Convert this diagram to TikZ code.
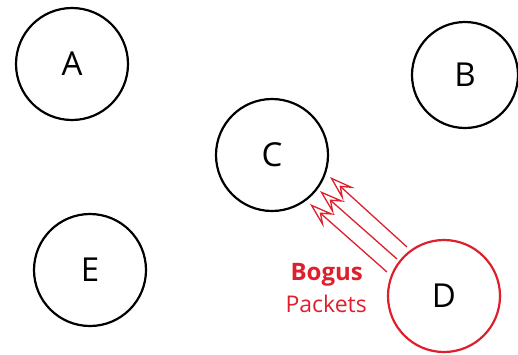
\documentclass[tikz,border=0pt]{standalone}
\usepackage{fontspec}
\setmainfont{Open Sans}
\usetikzlibrary{arrows.meta}
\definecolor{bogusred}{RGB}{222,32,44}
\begin{document}
\begin{tikzpicture}[x=1pt,y=-1pt,
  host/.style={circle,draw=black,line width=2.2pt,minimum size=112pt,inner sep=0pt,font=\fontsize{33}{36}\selectfont},
  badhost/.style={host,draw=bogusred},
  packet/.style={draw=bogusred,line width=1.3pt,-{Stealth[open,length=26pt,width=17pt,inset=11pt,line width=1.3pt]}}]
\useasboundingbox (0,0) rectangle (518,354);
\node[host] (A) at (72,64) {A};
\node[host,minimum size=106pt] (B) at (465,75) {B};
\node[host] (C) at (272,155) {C};
\node[host] (E) at (90,270) {E};
\node[badhost] (D) at (444,296) {D};
% three forged packets sent from D towards C
\coordinate (t1) at (407,247); \coordinate (h1) at (330,177);
\coordinate (t2) at (397,259); \coordinate (h2) at (320,191);
\coordinate (t3) at (387,272); \coordinate (h3) at (310,204);
\draw[packet] (t1) -- (h1);
\draw[packet] (t2) -- (h2);
\draw[packet] (t3) -- (h3);
\node[anchor=base east,text=bogusred,font=\fontsize{24}{27}\selectfont\bfseries,inner sep=0pt] (bogus) at (363,280) {Bogus};
\node[anchor=base east,text=bogusred,font=\fontsize{23}{26}\selectfont,inner sep=0pt] (packets) at (367,312) {Packets};
\end{tikzpicture}
\end{document}
